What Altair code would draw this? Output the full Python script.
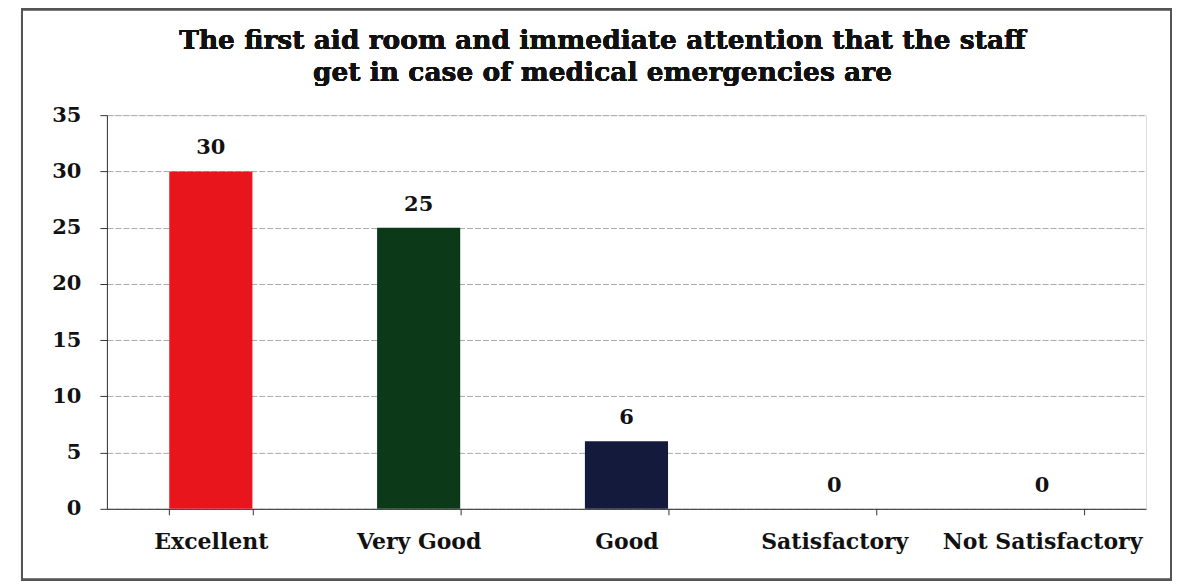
import altair as alt
import pandas as pd

categories = ["Excellent", "Very Good", "Good", "Satisfactory", "Not Satisfactory"]
values = [30, 25, 6, 0, 0]
colors = ["#e8161c", "#0c3a18", "#131a3c", "#888888", "#888888"]
title_lines = ["The first aid room and immediate attention that the staff",
               "get in case of medical emergencies are"]

df = pd.DataFrame({"category": categories, "value": values, "color": colors})

FONT = "DejaVu Serif"

base = alt.Chart(df).encode(
    x=alt.X("category:N", sort=categories, title=None,
            scale=alt.Scale(paddingInner=0.6, paddingOuter=0.3),
            axis=alt.Axis(labelAngle=0, labelFont=FONT, labelFontSize=22,
                          labelFontWeight="bold", labelColor="#111", labelLimit=400,
                          tickBand="extent", tickSize=6, tickColor="#333",
                          domainColor="#333", labelPadding=17, grid=False))
)

bars = base.mark_bar().encode(
    y=alt.Y("value:Q", title=None,
            scale=alt.Scale(domain=[0, 35]),
            axis=alt.Axis(values=[0, 5, 10, 15, 20, 25, 30, 35],
                          labelFont=FONT, labelFontSize=21, labelFontWeight="bold",
                          labelColor="#111", tickSize=7, tickColor="#333",
                          domainColor="#333", labelPadding=19,
                          gridColor="#aaa", gridDash=[6, 2], gridWidth=1)),
    color=alt.Color("color:N", scale=None),
)

labels = base.mark_text(dy=-13, font=FONT, fontSize=21, fontWeight="bold",
                        color="#111", baseline="bottom").encode(
    y=alt.Y("value:Q"),
    text=alt.Text("value:Q"),
)

title = alt.Chart(df).mark_text(
    text=title_lines, font=FONT, fontSize=26.5, fontWeight="bold", color="#111",
    align="center", baseline="alphabetic", lineHeight=32,
).encode(x=alt.value(496), y=alt.value(-66))

frame = alt.Chart(df).mark_rect(fill=None, stroke="#555", strokeWidth=2).encode(
    x=alt.value(-85), x2=alt.value(1065), y=alt.value(-106), y2=alt.value(465)
)

chart = alt.layer(frame, bars, labels, title).properties(
    width=1040, height=394,
    autosize=alt.AutoSizeParams(type="none"),
    padding={"left": 99, "top": 107, "right": 30, "bottom": 72},
).configure_view(stroke=None).configure(background="white")

chart.save("out.html", embed_options={"renderer": "svg", "actions": False})
